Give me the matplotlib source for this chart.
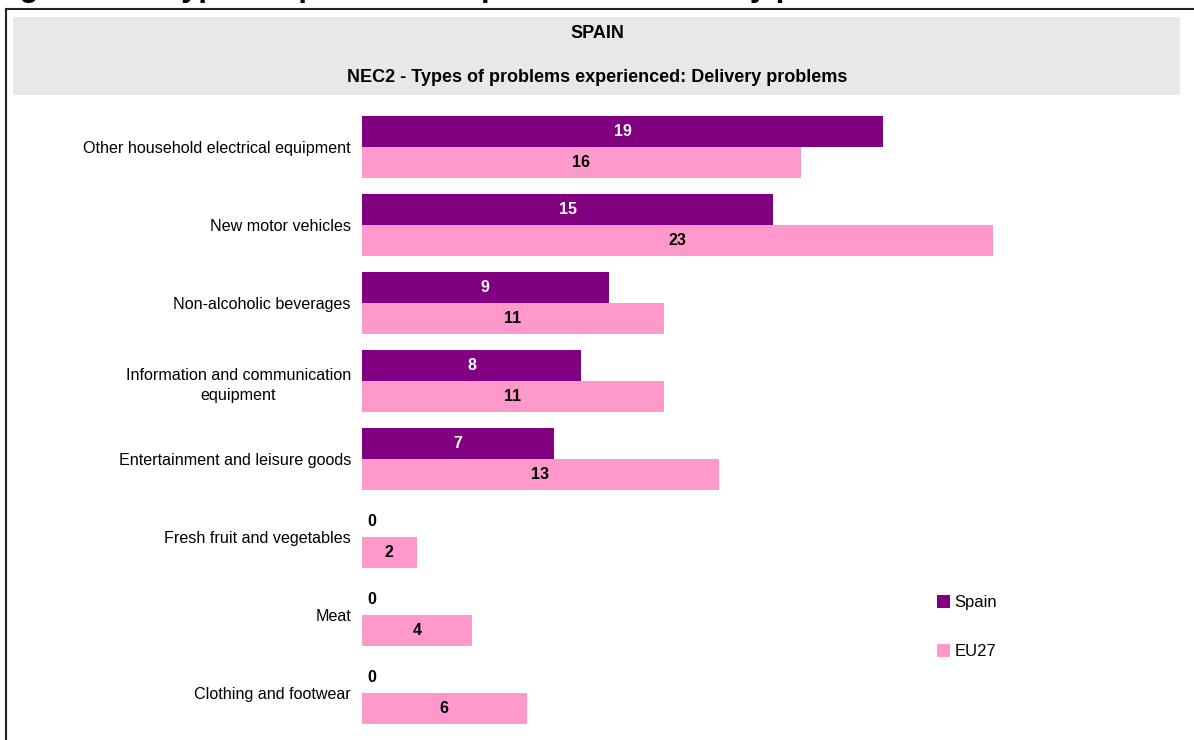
import matplotlib
matplotlib.use("Agg")
import matplotlib.pyplot as plt
from matplotlib.patches import Rectangle
from matplotlib.lines import Line2D

plt.rcParams["font.family"] = ["Liberation Sans", "DejaVu Sans"]

categories = [
    "Other household electrical equipment",
    "New motor vehicles",
    "Non-alcoholic beverages",
    "Information and communication\nequipment",
    "Entertainment and leisure goods",
    "Fresh fruit and vegetables",
    "Meat",
    "Clothing and footwear",
]
spain = [19, 15, 9, 8, 7, 0, 0, 0]
eu27 = [16, 23, 11, 11, 13, 2, 4, 6]

SPAIN_COLOR = "#800080"
EU_COLOR = "#ff99cc"

W, H = 1194, 740
fig = plt.figure(figsize=(W / 100, H / 100), dpi=100)


def fx(px):
    return px / W


def fy(py):
    return 1 - py / H


# page title, cut off by the top of the frame
fig.text(fx(-8), fy(-4), "Figure 112: Types of problems experienced: Delivery problems",
         fontsize=22.3, fontweight="bold", ha="left", va="baseline")

# outer frame
fig.add_artist(Line2D([fx(6), fx(1200)], [fy(9), fy(9)], color="#222222", lw=1.5))
fig.add_artist(Line2D([fx(6), fx(6)], [fy(9), fy(745)], color="#222222", lw=1.5))

# header band
fig.add_artist(Rectangle((fx(13), fy(95)), fx(1180) - fx(13), fy(17) - fy(95),
                         facecolor="#e8e8e8", edgecolor="none"))
fig.text(fx(597), fy(34), "SPAIN", fontsize=13, fontweight="bold", ha="center", va="center")
fig.text(fx(597), fy(78), "NEC2 - Types of problems experienced: Delivery problems",
         fontsize=13, fontweight="bold", ha="center", va="center")

px_per_unit = 27.43
xmax = 30
ax_w = xmax * px_per_unit
ax = fig.add_axes([fx(362), fy(732), ax_w / W, (732 - 108) / H])

pos = list(range(len(categories)))
h = 0.397
off = 0.199
b1 = ax.barh([p - off for p in pos], spain, height=h, color=SPAIN_COLOR, label="Spain")
b2 = ax.barh([p + off for p in pos], eu27, height=h, color=EU_COLOR, label="EU27")

for p, v in zip(pos, spain):
    if v > 0:
        ax.text(v / 2, p - off, str(v), color="white", fontsize=11.5, fontweight="bold",
                ha="center", va="center")
    else:
        ax.text(0.18, p - off, str(v), color="black", fontsize=11.5, fontweight="bold",
                ha="left", va="center")
for p, v in zip(pos, eu27):
    ax.text(v / 2, p + off, str(v), color="black", fontsize=11.5, fontweight="bold",
            ha="center", va="center")

ax.set_xlim(0, xmax)
ax.set_ylim(len(categories) - 0.5, -0.5)
ax.set_yticks(pos)
ax.set_yticklabels(categories, fontsize=11.6, multialignment="center", linespacing=1.45)
ax.tick_params(axis="y", length=0, pad=8)
ax.set_xticks([])
for s in ax.spines.values():
    s.set_visible(False)

ax.legend(handles=[b1, b2], loc="upper left",
          bbox_to_anchor=((922 - 362) / ax_w, (732 - 580) / 624),
          frameon=False, fontsize=12, labelspacing=2.05, handlelength=0.8, handleheight=0.8,
          handletextpad=0.25)

fig.savefig("out.png", dpi=100)
